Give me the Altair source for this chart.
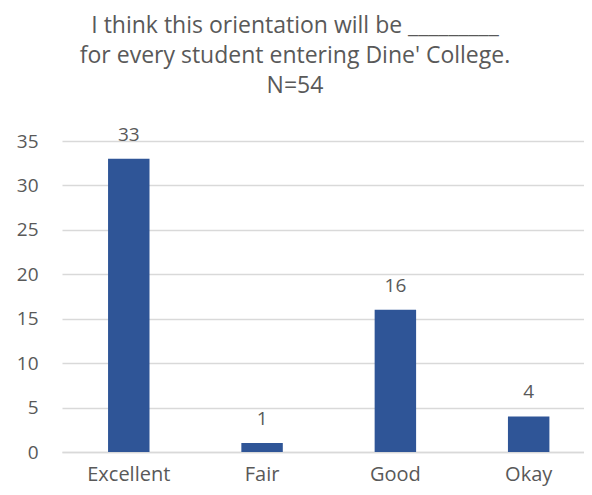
import altair as alt
import pandas as pd

categories = ["Excellent", "Fair", "Good", "Okay"]
counts = [33, 1, 16, 4]
title_lines = ["I think this orientation will be _________",
               "for every student entering Dine' College.",
               "N=54"]

df = pd.DataFrame({"cat": categories, "n": counts})
FONT = "Open Sans"
GRAY = "#595959"

base = alt.Chart(df).encode(
    x=alt.X("cat:N", sort=categories,
            scale=alt.Scale(paddingInner=0.689, paddingOuter=0.3025, align=0.571),
            axis=alt.Axis(title=None, labelAngle=0, ticks=False, labelPadding=12,
                          labelFontSize=20, labelFont=FONT, labelColor=GRAY,
                          domainColor="#D9D9D9", domainWidth=1.3)),
    y=alt.Y("n:Q", scale=alt.Scale(domain=[0, 35], nice=False),
            axis=alt.Axis(title=None, values=[0, 5, 10, 15, 20, 25, 30, 35],
                          ticks=False, domain=False, labelPadding=24,
                          labelFontSize=19, labelFont=FONT, labelColor=GRAY,
                          gridColor="#D9D9D9", gridWidth=1.3)),
)

bars = base.mark_bar(color="#2F5597")
labels = base.mark_text(dy=-18, fontSize=19, font=FONT, color=GRAY,
                        baseline="alphabetic").encode(text="n:Q")

chart = (bars + labels).properties(
    width=522, height=311,
    padding={"left": 54, "top": 133, "right": 0, "bottom": 35},
    autosize=alt.AutoSizeParams(type="none"),
    title=alt.TitleParams(title_lines, anchor="middle", frame="group", dx=-28,
                          offset=28, fontSize=23, lineHeight=30, font=FONT,
                          fontWeight="normal", color=GRAY),
).configure_view(stroke=None)

chart.save("out.html", embed_options={"renderer": "svg", "actions": False})
